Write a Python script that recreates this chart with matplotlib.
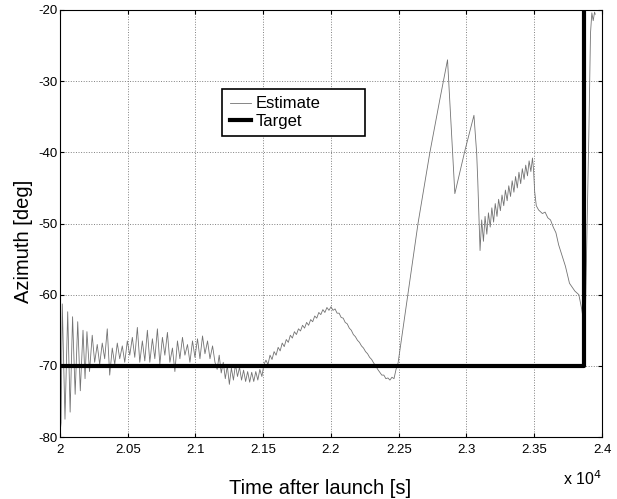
import numpy as np
import matplotlib
matplotlib.use('Agg')
from matplotlib import pyplot as plt

plt.rcParams['font.family'] = ['Liberation Sans', 'DejaVu Sans']
plt.rcParams['axes.unicode_minus'] = False

# estimate track (time [s], azimuth [deg])
est_t = [20000, 20008, 20017, 20037, 20057, 20075, 20093, 20112, 20131, 20150,
         20170, 20185, 20199, 20218, 20238,
         20256, 20275, 20293, 20312, 20330, 20349, 20367, 20386, 20404, 20423,
         20441, 20460, 20478, 20497, 20515, 20534, 20552, 20571, 20589, 20608,
         20626, 20645, 20663, 20682, 20700, 20719, 20737, 20756, 20774, 20793,
         20811, 20830, 20848, 20867, 20885, 20904, 20922, 20941, 20959, 20978,
         20996, 21015, 21033, 21052, 21070, 21089, 21107, 21126, 21144,
         21160, 21175, 21190, 21205, 21220, 21235, 21250, 21265, 21280, 21295,
         21310, 21325, 21340, 21355, 21370, 21385, 21400, 21415, 21430, 21445,
         21460, 21475, 21490, 21505,
         21520, 21535, 21550, 21565, 21580, 21595, 21610, 21625, 21640, 21655,
         21670, 21685, 21700, 21715, 21730, 21745, 21760, 21775, 21790, 21805,
         21820, 21835, 21850, 21865, 21880, 21895, 21910, 21925, 21940, 21955,
         21970, 21985, 22000, 22015, 22030, 22045, 22060, 22075, 22090, 22105,
         22120, 22135, 22150, 22165, 22180, 22195, 22210, 22225, 22240, 22255,
         22270, 22285, 22300, 22315, 22330, 22345, 22360, 22375, 22390, 22405,
         22420, 22435, 22450, 22465, 22480, 22495,
         22569, 22643, 22729, 22803, 22860, 22914, 22989, 23055, 23075, 23083,
         23100, 23112, 23125, 23137, 23150, 23162, 23175, 23187, 23200, 23212,
         23225, 23237, 23250, 23262, 23275, 23287, 23300, 23312, 23325, 23337,
         23350, 23362, 23375, 23387, 23400, 23412, 23425, 23437, 23450, 23462,
         23475, 23487, 23495, 23503, 23515, 23532, 23560, 23580, 23600, 23620,
         23640, 23660, 23680, 23700, 23730, 23760, 23800, 23829, 23850, 23866,
         23875, 23903, 23915, 23925, 23935, 23945, 23950]
est_v = [-79.5, -78.0, -61.3, -77.5, -62.4, -76.5, -63.1, -74.0, -63.8, -73.5,
         -65.0, -71.8, -65.2, -70.8, -65.7,
         -69.5, -67.0, -69.8, -66.8, -69.0, -64.8, -71.3, -67.5, -69.8, -66.8,
         -69.0, -67.2, -69.5, -66.5, -68.5, -66.0, -68.8, -64.6, -69.5, -66.5,
         -69.3, -65.0, -69.5, -66.2, -69.0, -64.8, -69.8, -66.0, -68.5, -65.3,
         -69.5, -67.5, -70.8, -66.5, -69.0, -66.0, -68.5, -67.0, -69.5, -66.5,
         -68.8, -66.2, -69.0, -65.8, -68.3, -66.5, -69.0, -67.2, -69.5,
         -70.5, -68.5, -71.0, -69.5, -71.8, -70.0, -72.6, -70.3, -72.0, -69.8,
         -71.5, -70.2, -72.0, -70.6, -72.2, -70.8, -72.3, -70.9, -72.2, -70.8,
         -72.0, -70.5, -71.5, -69.8,
         -69.2, -69.8, -68.5, -69.1, -68.0, -68.5, -67.4, -67.9, -66.8, -67.3,
         -66.3, -66.7, -65.7, -66.1, -65.2, -65.6, -64.8, -65.1, -64.3, -64.7,
         -63.9, -64.3, -63.5, -63.8, -63.0, -63.3, -62.5, -62.8, -62.1, -62.5,
         -61.8, -62.2, -61.7, -62.2, -62.0, -62.6, -62.6, -63.2, -63.3, -63.9,
         -64.1, -64.7, -65.0, -65.6, -65.9, -66.4, -66.7, -67.2, -67.5, -68.0,
         -68.3, -68.8, -69.1, -69.6, -70.0, -70.5, -70.9, -71.3, -71.3, -71.8,
         -71.7, -72.0, -71.6, -71.8, -70.5, -69.6,
         -59.8, -49.9, -40.1, -32.6, -27.0, -45.8, -39.7, -34.8, -40.1, -43.9,
         -53.8, -49.5, -52.5, -49.0, -51.5, -48.5, -50.5, -47.8, -49.8, -47.2,
         -49.0, -46.6, -48.2, -46.0, -47.5, -45.3, -46.8, -44.7, -46.2, -44.0,
         -45.6, -43.4, -45.0, -42.8, -44.4, -42.3, -43.8, -41.8, -43.3, -41.2,
         -42.7, -40.8, -42.5, -45.5, -47.5, -48.1, -48.6, -48.4, -49.2, -49.5,
         -50.5, -51.3, -53.0, -54.2, -56.0, -58.4, -59.5, -60.0, -62.0, -64.0,
         -65.2, -37.3, -23.3, -20.4, -21.5, -20.3, -20.6]

# target track
tgt_t = [20000, 23870, 23870]
tgt_v = [-70, -70, -20]

xticks = [20000, 20500, 21000, 21500, 22000, 22500, 23000, 23500, 24000]
xtick_labels = ['2', '2.05', '2.1', '2.15', '2.2', '2.25', '2.3', '2.35', '2.4']
yticks = [-80, -70, -60, -50, -40, -30, -20]

fig = plt.figure(figsize=(6.17, 4.99), dpi=100)
ax = fig.add_axes([0.0972, 0.1242, 0.8785, 0.8558])

ax.plot(est_t, est_v, color='0.45', lw=0.6, label='Estimate')
ax.plot(tgt_t, tgt_v, color='black', lw=3, label='Target')

ax.set_xlim(20000, 24000)
ax.set_ylim(-80, -20)
ax.set_xticks(xticks)
ax.set_xticklabels(xtick_labels)
ax.set_yticks(yticks)
ax.tick_params(direction='in', labelsize=9.5, top=True, right=True, length=3)
ax.tick_params(axis='y', pad=2)
ax.tick_params(axis='x', pad=5)
ax.grid(True, color='0.5', linestyle=':', lw=0.7)

ax.set_xlabel('Time after launch [s]', fontsize=14.5)
ax.xaxis.set_label_coords(0.48, -0.098)
ax.set_ylabel('Azimuth [deg]', fontsize=14.5)
ax.yaxis.set_label_coords(-0.05, 0.457)
ax.text(1.0, -0.075, 'x 10$^4$', transform=ax.transAxes, ha='right', va='top', fontsize=11.5)

leg = ax.legend(loc='upper left', bbox_to_anchor=(0.299, 0.70, 0.264, 0.115), mode='expand',
                fontsize=12, fancybox=False, framealpha=1, edgecolor='black', handlelength=1.3,
                borderpad=0.45, labelspacing=0.15, handletextpad=0.25, borderaxespad=0)
leg.get_frame().set_linewidth(1.2)

fig.savefig('out.png', dpi=100)
